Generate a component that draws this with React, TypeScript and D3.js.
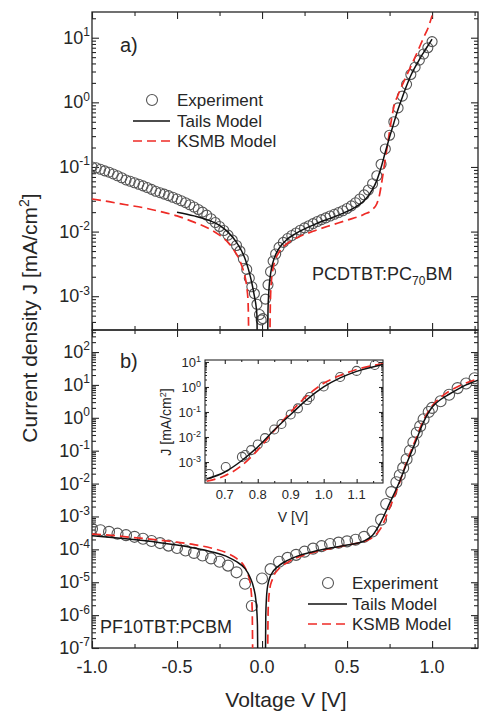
import React, { useEffect, useRef } from 'react';
import * as d3 from 'd3';

// panel a) PCDTBT:PC70BM, [V, |J|] pairs
const experimentA: [number, number][] = [
  [-1.0, 0.1], [-0.975, 0.097], [-0.95, 0.092], [-0.925, 0.087], [-0.9, 0.083], [-0.875, 0.078],
  [-0.85, 0.073], [-0.825, 0.068], [-0.8, 0.063], [-0.775, 0.06], [-0.75, 0.057], [-0.725, 0.054],
  [-0.7, 0.051], [-0.675, 0.048], [-0.65, 0.045], [-0.625, 0.042], [-0.6, 0.04], [-0.575, 0.038],
  [-0.55, 0.036], [-0.525, 0.034], [-0.5, 0.032], [-0.475, 0.03], [-0.45, 0.028], [-0.425, 0.026],
  [-0.4, 0.024], [-0.375, 0.022], [-0.35, 0.02], [-0.325, 0.018], [-0.3, 0.0158], [-0.275, 0.0138],
  [-0.25, 0.012], [-0.225, 0.0104], [-0.2, 0.0088], [-0.175, 0.0074], [-0.15, 0.0061], [-0.13, 0.005],
  [-0.11, 0.0038], [-0.09, 0.0026], [-0.075, 0.0019], [-0.06, 0.0014], [-0.045, 0.0011], [-0.03, 0.00075],
  [-0.015, 0.00052], [-0.005, 0.00043], [0.005, 0.00045], [0.02, 0.0009], [0.035, 0.0015], [0.05, 0.0024],
  [0.065, 0.0035], [0.08, 0.0045], [0.1, 0.0057], [0.125, 0.0068], [0.15, 0.0078], [0.175, 0.0087],
  [0.2, 0.0095], [0.225, 0.0105], [0.25, 0.0114], [0.275, 0.0123], [0.3, 0.0133], [0.325, 0.0143],
  [0.35, 0.0153], [0.375, 0.0163], [0.4, 0.0174], [0.425, 0.0185], [0.45, 0.0197], [0.475, 0.021],
  [0.5, 0.0228], [0.525, 0.025], [0.55, 0.028], [0.575, 0.032], [0.6, 0.037], [0.625, 0.044],
  [0.65, 0.055], [0.675, 0.073], [0.7, 0.11], [0.725, 0.19], [0.75, 0.31], [0.775, 0.5],
  [0.8, 0.82], [0.825, 1.25], [0.85, 1.9], [0.875, 2.7], [0.9, 3.5], [0.925, 4.5],
  [0.95, 5.6], [0.975, 7.0], [1.0, 8.7],
];
const tailsANeg: [number, number][] = [
  [-0.5, 0.02], [-0.4, 0.0175], [-0.3, 0.0145], [-0.25, 0.0125], [-0.2, 0.0098], [-0.15, 0.0068],
  [-0.12, 0.005], [-0.1, 0.0038], [-0.08, 0.0026], [-0.06, 0.0016], [-0.045, 0.001], [-0.035, 0.0007],
  [-0.03, 0.0005], [-0.028, 0.0002],
];
const tailsAPos: [number, number][] = [
  [0.033, 0.0002], [0.035, 0.0006], [0.04, 0.0012], [0.05, 0.0022], [0.065, 0.0034], [0.08, 0.0044],
  [0.1, 0.0055], [0.15, 0.0077], [0.2, 0.0094], [0.25, 0.011], [0.3, 0.0126], [0.35, 0.0143],
  [0.4, 0.016], [0.45, 0.018], [0.5, 0.0205], [0.55, 0.024], [0.6, 0.03], [0.65, 0.045],
  [0.675, 0.062], [0.7, 0.098], [0.725, 0.17], [0.75, 0.29], [0.775, 0.48], [0.8, 0.78],
  [0.825, 1.2], [0.85, 1.8], [0.875, 2.6], [0.9, 3.5], [0.925, 4.6], [0.95, 5.9], [0.975, 7.5], [1.0, 9.5],
];
const ksmbANeg: [number, number][] = [
  [-1.0, 0.032], [-0.9, 0.029], [-0.8, 0.026], [-0.7, 0.0235], [-0.6, 0.0205], [-0.5, 0.0175],
  [-0.4, 0.014], [-0.3, 0.0107], [-0.25, 0.0088], [-0.2, 0.0068], [-0.17, 0.0054], [-0.14, 0.004],
  [-0.12, 0.003], [-0.1, 0.002], [-0.09, 0.0014], [-0.082, 0.0008], [-0.078, 0.0002],
];
const ksmbAPos: [number, number][] = [
  [0.046, 0.0002], [0.049, 0.0008], [0.055, 0.0017], [0.065, 0.0027], [0.08, 0.0038], [0.1, 0.0048],
  [0.15, 0.0066], [0.2, 0.0079], [0.3, 0.0101], [0.4, 0.0124], [0.5, 0.015], [0.6, 0.0185],
  [0.65, 0.022], [0.675, 0.027], [0.69, 0.036], [0.7, 0.05], [0.72, 0.11], [0.74, 0.24],
  [0.76, 0.52], [0.775, 0.85], [0.8, 1.3], [0.85, 2.6], [0.9, 5.0], [0.95, 10], [0.98, 15], [1.0, 22],
];

// panel b) PF10TBT:PCBM
const experimentB: [number, number][] = [
  [-1.0, 4.2e-4], [-0.95, 3.8e-4], [-0.9, 3.4e-4], [-0.85, 3.0e-4], [-0.8, 2.7e-4], [-0.75, 2.4e-4],
  [-0.7, 2.1e-4], [-0.65, 1.8e-4], [-0.6, 1.55e-4], [-0.55, 1.3e-4], [-0.5, 1.1e-4], [-0.45, 9.2e-5],
  [-0.4, 7.8e-5], [-0.35, 6.5e-5], [-0.3, 5.3e-5], [-0.25, 4.2e-5], [-0.2, 3.2e-5], [-0.15, 2.0e-5],
  [-0.1, 9e-6], [-0.06, 1.9e-6], [0.0, 1.3e-5], [0.05, 2.5e-5], [0.1, 4.2e-5], [0.15, 5.5e-5],
  [0.2, 6.8e-5], [0.25, 8.5e-5], [0.3, 1.05e-4], [0.35, 1.25e-4], [0.4, 1.45e-4], [0.45, 1.6e-4],
  [0.5, 1.75e-4], [0.55, 1.95e-4], [0.6, 2.4e-4], [0.65, 3.5e-4], [0.7, 8e-4], [0.73, 2.4e-3],
  [0.76, 5.5e-3], [0.79, 1.1e-2], [0.81, 1.8e-2], [0.83, 3e-2], [0.85, 5.5e-2], [0.87, 0.1],
  [0.89, 0.18], [0.91, 0.35], [0.93, 0.55], [0.95, 0.9], [0.98, 1.5], [1.0, 2.0], [1.05, 3.2],
  [1.1, 5.0], [1.15, 8.0], [1.2, 11], [1.25, 16],
];
const tailsBNeg: [number, number][] = [
  [-1.0, 2.6e-4], [-0.9, 2.35e-4], [-0.8, 2.1e-4], [-0.7, 1.85e-4], [-0.6, 1.6e-4], [-0.5, 1.35e-4],
  [-0.4, 1.1e-4], [-0.3, 8.5e-5], [-0.2, 5.8e-5], [-0.15, 4.2e-5], [-0.1, 2.6e-5], [-0.07, 1.4e-5],
  [-0.05, 7e-6], [-0.035, 2.5e-6], [-0.027, 5e-7], [-0.025, 5e-8],
];
const tailsBPos: [number, number][] = [
  [0.02, 5e-8], [0.022, 1e-6], [0.03, 6e-6], [0.05, 1.6e-5], [0.1, 3.2e-5], [0.15, 4.6e-5],
  [0.2, 6e-5], [0.3, 8.5e-5], [0.4, 1.1e-4], [0.5, 1.35e-4], [0.6, 1.8e-4], [0.65, 2.7e-4],
  [0.7, 7e-4], [0.75, 2.5e-3], [0.8, 9e-3], [0.85, 0.04], [0.9, 0.17], [0.95, 0.75], [1.0, 2.1],
  [1.05, 3.6], [1.1, 5.2], [1.15, 7.3], [1.2, 10], [1.27, 14],
];
const ksmbBNeg: [number, number][] = [
  [-1.0, 2.9e-4], [-0.9, 2.7e-4], [-0.8, 2.4e-4], [-0.7, 2.15e-4], [-0.6, 1.9e-4], [-0.5, 1.65e-4],
  [-0.4, 1.4e-4], [-0.3, 1.1e-4], [-0.2, 7.5e-5], [-0.15, 5.3e-5], [-0.1, 2.8e-5], [-0.08, 1.6e-5],
  [-0.065, 6e-6], [-0.058, 1.5e-6], [-0.055, 5e-8],
];
const ksmbBPos: [number, number][] = [
  [0.033, 5e-8], [0.036, 1.5e-6], [0.045, 6e-6], [0.06, 1.2e-5], [0.1, 2.6e-5], [0.15, 4e-5],
  [0.2, 5.5e-5], [0.3, 8e-5], [0.4, 1.05e-4], [0.5, 1.35e-4], [0.6, 1.75e-4], [0.65, 2.3e-4],
  [0.7, 4.5e-4], [0.75, 1.8e-3], [0.8, 8e-3], [0.85, 0.045], [0.9, 0.2], [0.95, 0.85], [1.0, 2.3],
  [1.05, 4.2], [1.1, 6.4], [1.15, 8.8], [1.2, 11.5], [1.27, 15],
];

// inset of panel b)
const experimentInset: [number, number][] = [
  [0.652, 3.3e-4], [0.703, 6.3e-4], [0.752, 1.6e-3], [0.762, 1.9e-3], [0.78, 3e-3], [0.8, 5e-3],
  [0.822, 9e-3], [0.85, 0.02], [0.872, 0.033], [0.9, 0.08], [0.922, 0.14], [0.95, 0.3],
  [0.958, 0.4], [1.0, 1.05], [1.05, 2.5], [1.1, 4.4], [1.155, 7.6],
];
const tailsInset: [number, number][] = [
  [0.645, 2.1e-4], [0.7, 4e-4], [0.75, 1.1e-3], [0.8, 4e-3], [0.85, 0.019], [0.9, 0.08],
  [0.95, 0.32], [1.0, 1.0], [1.05, 2.3], [1.1, 4.2], [1.18, 8],
];
const ksmbInset: [number, number][] = [
  [0.645, 1.7e-4], [0.7, 2.8e-4], [0.75, 7e-4], [0.8, 3e-3], [0.85, 0.018], [0.9, 0.1],
  [0.95, 0.45], [1.0, 1.4], [1.05, 2.9], [1.1, 5.0], [1.18, 8.5],
];

const mainXTicks = [-1.0, -0.5, 0.0, 0.5, 1.0];
const mainXMinor = [-0.75, -0.25, 0.25, 0.75, 1.25];
const expA = [1, 0, -1, -2, -3];
const expB = [2, 1, 0, -1, -2, -3, -4, -5, -6, -7];
const insetXTicks = [0.7, 0.8, 0.9, 1.0, 1.1];
const insetExp = [1, 0, -1, -2, -3];
const legendLabels = ['Experiment', 'Tails Model', 'KSMB Model'];

const FONT = '"Liberation Sans", Arial, sans-serif';
const INK = '#262626';
const RED = '#ee2b26';
const CIRCLE = '#555';

function logMinors(lo: number, hi: number) {
  const out: number[] = [];
  for (let e = Math.floor(Math.log10(lo)); e <= Math.ceil(Math.log10(hi)); e++) {
    for (let m = 2; m < 10; m++) {
      const v = m * Math.pow(10, e);
      if (v > lo && v < hi) out.push(v);
    }
  }
  return out;
}

function tickGroup(g: any, axis: any, transform: string) {
  g.append('g')
    .attr('transform', transform)
    .call(axis)
    .call((s: any) => {
      s.select('.domain').remove();
      s.selectAll('text').remove();
      s.selectAll('line').attr('stroke', INK).attr('stroke-width', 1.1);
    });
}

function powLabel(g: any, x: number, y: number, e: number, size: number, sup: number) {
  const t = g.append('text')
    .attr('x', x).attr('y', y)
    .attr('text-anchor', 'end')
    .attr('font-family', FONT).attr('font-size', size).attr('fill', INK);
  t.append('tspan').text('10');
  t.append('tspan').attr('dy', -size * 0.42).attr('font-size', sup).text(String(e));
}

const App = () => {
  const svgRef = useRef<SVGSVGElement>(null);

  useEffect(() => {
    const svg = d3.select(svgRef.current).html(null);
    const left = 92, right = 478;
    const x = d3.scaleLinear().domain([-1, 1.27]).range([left, right]);
    const yA = d3.scaleLog().domain([3e-4, 25]).range([330, 12]);
    const yB = d3.scaleLog().domain([1e-7, Math.pow(10, 2.67)]).range([648, 330]);

    const defs = svg.append('defs');
    const clip = (id: string, x0: number, y0: number, w: number, h: number) =>
      defs.append('clipPath').attr('id', id).append('rect').attr('x', x0).attr('y', y0).attr('width', w).attr('height', h);
    clip('clipA', left, 12, right - left, 318);
    clip('clipB', left, 330, right - left, 318);

    const panel = (yS: any, top: number, bottom: number, key: string) => {
      const g = svg.append('g');
      const [lo, hi] = yS.domain();
      const majors = mainXTicks;
      tickGroup(g, d3.axisBottom(x).tickValues(majors).tickSize(-7), `translate(0,${bottom})`);
      tickGroup(g, d3.axisBottom(x).tickValues(mainXMinor).tickSize(-4), `translate(0,${bottom})`);
      tickGroup(g, d3.axisTop(x).tickValues(majors).tickSize(-7), `translate(0,${top})`);
      tickGroup(g, d3.axisTop(x).tickValues(mainXMinor).tickSize(-4), `translate(0,${top})`);
      const decades = (key === 'A' ? expA : expB).map((e) => Math.pow(10, e)).filter((v) => v >= lo && v <= hi);
      const minors = logMinors(lo, hi);
      tickGroup(g, d3.axisLeft(yS).tickValues(decades).tickSize(-7), `translate(${left},0)`);
      tickGroup(g, d3.axisLeft(yS).tickValues(minors).tickSize(-4), `translate(${left},0)`);
      tickGroup(g, d3.axisRight(yS).tickValues(decades).tickSize(-7), `translate(${right},0)`);
      tickGroup(g, d3.axisRight(yS).tickValues(minors).tickSize(-4), `translate(${right},0)`);
      g.append('rect').attr('x', left).attr('y', top).attr('width', right - left).attr('height', bottom - top)
        .attr('fill', 'none').attr('stroke', INK).attr('stroke-width', 1.3);
      return g.append('g').attr('clip-path', `url(#clip${key})`);
    };

    const drawSeries = (g: any, xs: any, ys: any, exp: [number, number][], tails: [number, number][][], ksmb: [number, number][][], r: number) => {
      g.append('g').selectAll('circle').data(exp).join('circle')
        .attr('cx', (d: [number, number]) => xs(d[0])).attr('cy', (d: [number, number]) => ys(d[1]))
        .attr('r', r).attr('fill', 'none').attr('stroke', CIRCLE).attr('stroke-width', 1.1);
      const line = d3.line<[number, number]>().x((d) => xs(d[0])).y((d) => ys(d[1])).curve(d3.curveMonotoneX);
      ksmb.forEach((seg) => g.append('path').attr('d', line(seg)).attr('fill', 'none')
        .attr('stroke', RED).attr('stroke-width', 1.7).attr('stroke-dasharray', '9,5'));
      tails.forEach((seg) => g.append('path').attr('d', line(seg)).attr('fill', 'none')
        .attr('stroke', '#111').attr('stroke-width', 1.5));
    };

    const plotA = panel(yA, 12, 330, 'A');
    drawSeries(plotA, x, yA, experimentA, [tailsANeg, tailsAPos], [ksmbANeg, ksmbAPos], 5);
    const plotB = panel(yB, 330, 648, 'B');
    drawSeries(plotB, x, yB, experimentB, [tailsBNeg, tailsBPos], [ksmbBNeg, ksmbBPos], 5.5);

    // tick labels
    expA.forEach((e) => powLabel(svg, 90, yA(Math.pow(10, e)) + 6, e, 18, 12));
    expB.forEach((e) => powLabel(svg, 90, yB(Math.pow(10, e)) + 6, e, 18, 12));
    svg.append('g').selectAll('text').data(mainXTicks).join('text')
      .attr('x', (d) => x(d)).attr('y', 673).attr('text-anchor', 'middle')
      .attr('font-family', FONT).attr('font-size', 18).attr('fill', INK)
      .text((d) => d.toFixed(1));

    // axis titles
    const txt = (tx: number, ty: number, size: number, anchor = 'start') => svg.append('text')
      .attr('x', tx).attr('y', ty).attr('text-anchor', anchor)
      .attr('font-family', FONT).attr('font-size', size).attr('fill', INK);
    txt(286, 707, 21, 'middle').text('Voltage V [V]');
    const yt = svg.append('text').attr('transform', 'translate(37,318) rotate(-90)').attr('text-anchor', 'middle')
      .attr('font-family', FONT).attr('font-size', 21).attr('fill', INK);
    yt.append('tspan').text('Current density J [mA/cm');
    yt.append('tspan').attr('dy', -8).attr('font-size', 14).text('2');
    yt.append('tspan').attr('dy', 8).text(']');

    txt(120, 52, 20).text('a)');
    txt(120, 368, 20).text('b)');
    const ann = txt(312, 280, 18);
    ann.append('tspan').text('PCDTBT:PC');
    ann.append('tspan').attr('dy', 5).attr('font-size', 12).text('70');
    ann.append('tspan').attr('dy', -5).text('BM');
    txt(100, 633, 18).text('PF10TBT:PCBM');

    // legends
    const legend = (cx: number, lx0: number, lx1: number, tx: number, ys: number[]) => {
      svg.append('circle').attr('cx', cx).attr('cy', ys[0]).attr('r', 5.5)
        .attr('fill', 'none').attr('stroke', CIRCLE).attr('stroke-width', 1.1);
      svg.append('line').attr('x1', lx0).attr('x2', lx1).attr('y1', ys[1]).attr('y2', ys[1])
        .attr('stroke', '#111').attr('stroke-width', 1.5);
      svg.append('line').attr('x1', lx0).attr('x2', lx1).attr('y1', ys[2]).attr('y2', ys[2])
        .attr('stroke', RED).attr('stroke-width', 1.7).attr('stroke-dasharray', '9,5');
      legendLabels.forEach((l, i) => txt(tx, ys[i] + 6, 17).text(l));
    };
    legend(152, 133, 170, 177, [100, 121, 141]);
    legend(328, 308, 347, 352, [583, 604, 624]);

    // inset
    const iL = 205, iR = 383, iT = 360, iB = 483;
    const xi = d3.scaleLinear().domain([0.64, 1.18]).range([iL, iR]);
    const yi = d3.scaleLog().domain([1.45e-4, 12]).range([iB, iT]);
    clip('clipI', iL, iT, iR - iL, iB - iT);
    const gi = svg.append('g');
    gi.append('rect').attr('x', iL).attr('y', iT).attr('width', iR - iL).attr('height', iB - iT).attr('fill', '#fff');
    const iMinorX = insetXTicks.map((v) => v + 0.05).filter((v) => v < 1.18);
    const iDec = insetExp.map((e) => Math.pow(10, e));
    const iMin = logMinors(1.45e-4, 12);
    tickGroup(gi, d3.axisBottom(xi).tickValues(insetXTicks).tickSize(-4), `translate(0,${iB})`);
    tickGroup(gi, d3.axisBottom(xi).tickValues(iMinorX).tickSize(-2), `translate(0,${iB})`);
    tickGroup(gi, d3.axisTop(xi).tickValues(insetXTicks).tickSize(-4), `translate(0,${iT})`);
    tickGroup(gi, d3.axisTop(xi).tickValues(iMinorX).tickSize(-2), `translate(0,${iT})`);
    tickGroup(gi, d3.axisLeft(yi).tickValues(iDec).tickSize(-4), `translate(${iL},0)`);
    tickGroup(gi, d3.axisLeft(yi).tickValues(iMin).tickSize(-2), `translate(${iL},0)`);
    tickGroup(gi, d3.axisRight(yi).tickValues(iDec).tickSize(-4), `translate(${iR},0)`);
    tickGroup(gi, d3.axisRight(yi).tickValues(iMin).tickSize(-2), `translate(${iR},0)`);
    gi.append('rect').attr('x', iL).attr('y', iT).attr('width', iR - iL).attr('height', iB - iT)
      .attr('fill', 'none').attr('stroke', INK).attr('stroke-width', 1.1);
    const plotI = gi.append('g').attr('clip-path', 'url(#clipI)');
    drawSeries(plotI, xi, yi, experimentInset, [tailsInset], [ksmbInset], 4.5);

    insetExp.forEach((e) => powLabel(svg, 201, yi(Math.pow(10, e)) + 5, e, 13, 9));
    svg.append('g').selectAll('text').data(insetXTicks).join('text')
      .attr('x', (d) => xi(d)).attr('y', 499).attr('text-anchor', 'middle')
      .attr('font-family', FONT).attr('font-size', 13).attr('fill', INK)
      .text((d) => d.toFixed(1));
    txt(293, 522, 14, 'middle').text('V [V]');
    const iy = svg.append('text').attr('transform', 'translate(171,422) rotate(-90)').attr('text-anchor', 'middle')
      .attr('font-family', FONT).attr('font-size', 14).attr('fill', INK);
    iy.append('tspan').text('J [mA/cm');
    iy.append('tspan').attr('dy', -5).attr('font-size', 9).text('2');
    iy.append('tspan').attr('dy', 5).text(']');
  }, []);

  return (
    <svg ref={svgRef} width={480} height={716}
      style={{ position: 'absolute', left: 0, top: 0, background: '#fff' }} />
  );
};

export default App;
